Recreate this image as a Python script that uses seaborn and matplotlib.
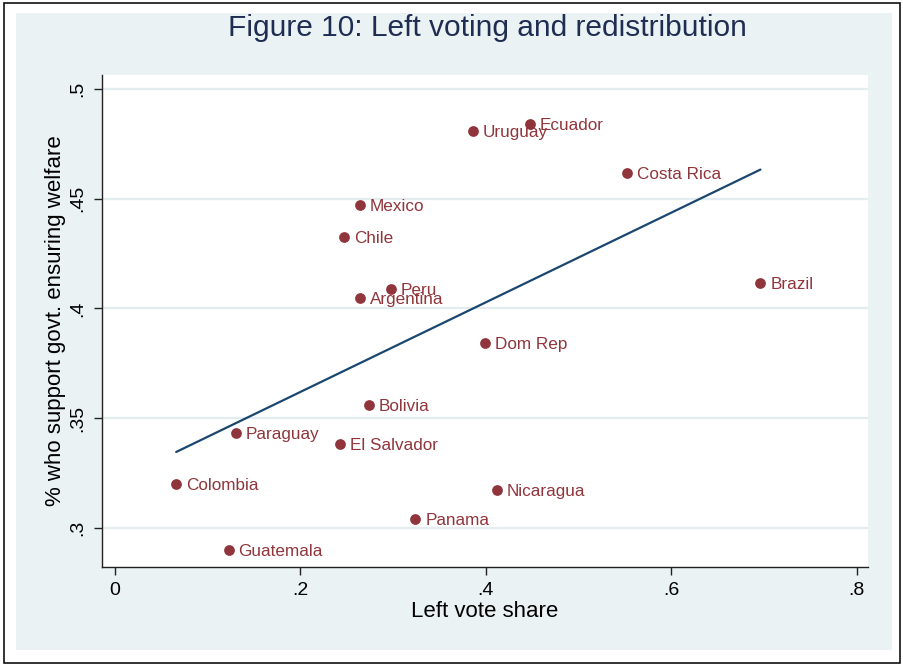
import matplotlib
matplotlib.use("Agg")
import matplotlib.pyplot as plt
from matplotlib.patches import Rectangle
import pandas as pd
import seaborn as sns

# Country-level data: left vote share vs. support for government-ensured welfare
countries = ["Ecuador", "Uruguay", "Costa Rica", "Mexico", "Chile", "Peru",
             "Argentina", "Brazil", "Dom Rep", "Bolivia", "Paraguay",
             "El Salvador", "Colombia", "Nicaragua", "Panama", "Guatemala"]
left_share = [0.447, 0.386, 0.552, 0.2645, 0.247, 0.298,
              0.2645, 0.696, 0.399, 0.274, 0.130,
              0.243, 0.066, 0.412, 0.324, 0.1225]
welfare_support = [0.4841, 0.4809, 0.4617, 0.4472, 0.4326, 0.4089,
                   0.4048, 0.4116, 0.3843, 0.3560, 0.3433,
                   0.3383, 0.3200, 0.3173, 0.3041, 0.2900]

x_ticks = [0, 0.2, 0.4, 0.6, 0.8]
x_tick_labels = ["0", ".2", ".4", ".6", ".8"]
y_ticks = [0.3, 0.35, 0.4, 0.45, 0.5]
y_tick_labels = [".3", ".35", ".4", ".45", ".5"]

df = pd.DataFrame({"country": countries, "left": left_share, "welfare": welfare_support})

sns.set_style("white")
plt.rcParams["font.family"] = ["Liberation Sans", "DejaVu Sans"]

MAROON = "#90353B"
NAVY = "#1A476F"
REGION = "#EAF2F3"

W, H = 904, 665
fig = plt.figure(figsize=(W / 100, H / 100), dpi=100)
fig.patch.set_facecolor("white")

# Outer frame and shaded graph region, kept beneath the axes
fig.patches.append(Rectangle((4 / W, 1 - 663 / H), 896 / W, 660 / H,
                             transform=fig.transFigure, fill=False,
                             edgecolor="#111111", linewidth=1.2, zorder=-10))
fig.patches.append(Rectangle((16 / W, 1 - 650 / H), 876 / W, 637 / H,
                             transform=fig.transFigure, facecolor=REGION,
                             edgecolor="none", zorder=-11))

left, right, top, bottom = 102, 868, 75, 567
ax = fig.add_axes([left / W, 1 - bottom / H, (right - left) / W, (bottom - top) / H])
ax.set_facecolor("white")
ax.set_zorder(1)

for yv in y_ticks:
    ax.axhline(yv, color="#E3EDF0", linewidth=1.6, zorder=0)

sns.regplot(data=df, x="left", y="welfare", ax=ax, ci=None, truncate=True,
            scatter_kws={"color": MAROON, "s": 60, "linewidths": 0, "alpha": 1, "zorder": 3},
            line_kws={"color": NAVY, "linewidth": 1.6, "zorder": 2})

for name, xv, yv in zip(countries, left_share, welfare_support):
    ax.annotate(name, (xv, yv), xytext=(7, -1), textcoords="offset points",
                ha="left", va="center", fontsize=12.3, color=MAROON, zorder=4)

ax.set_xlim(-0.014, 0.812)
ax.set_ylim(0.2822, 0.5064)
ax.set_xticks(x_ticks)
ax.set_xticklabels(x_tick_labels)
ax.set_yticks(y_ticks)
ax.set_yticklabels(y_tick_labels, rotation=90, va="center")
ax.tick_params(axis="both", direction="out", length=6, width=1, color="#222222",
               labelsize=14, labelcolor="black", pad=5, left=True, bottom=True)

for side in ["top", "right"]:
    ax.spines[side].set_visible(False)
for side in ["left", "bottom"]:
    ax.spines[side].set_color("#222222")
    ax.spines[side].set_linewidth(1.0)

ax.set_xlabel("Left vote share", fontsize=16, color="black", labelpad=1)
ax.set_ylabel("% who support govt. ensuring welfare", fontsize=16, color="black", labelpad=3)

fig.text(487 / W, 1 - 28 / H, "Figure 10: Left voting and redistribution",
         ha="center", va="center", fontsize=21.5, color="#1F2D52")

fig.savefig("out.png", dpi=100, facecolor=fig.get_facecolor())
